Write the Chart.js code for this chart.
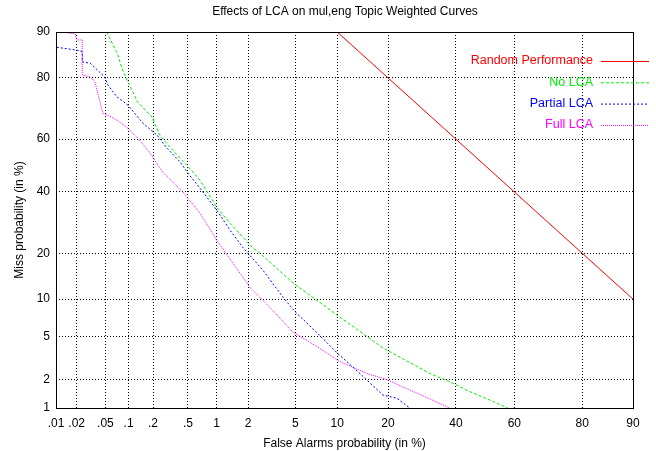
<!DOCTYPE html>
<html>
<head>
<meta charset="utf-8">
<script src="https://cdn.jsdelivr.net/npm/chart.js@4/dist/chart.umd.min.js"></script>
<style>
  html, body { margin: 0; padding: 0; background: #fff; }
  #wrap { width: 656px; height: 451px; }
</style>
</head>
<body>
<div id="wrap"><canvas id="det"></canvas></div>
<script>
// tick positions (in %) and their labels
const faTicks = [0.01, 0.02, 0.05, 0.1, 0.2, 0.5, 1, 2, 5, 10, 20, 40, 60, 80, 90];
const faTickLabels = ['.01', '.02', '.05', '.1', '.2', '.5', '1', '2', '5', '10', '20', '40', '60', '80', '90'];
const missTicks = [1, 2, 5, 10, 20, 40, 60, 80, 90];
const missTickLabels = ['1', '2', '5', '10', '20', '40', '60', '80', '90'];

// series, false alarm % / miss %
const randomFa   = [10, 90];
const randomMiss = [90, 10];

const noLcaFa   = [0.052, 0.073, 0.082, 0.098, 0.13, 0.195, 0.24, 0.38, 0.57, 0.67, 1.0, 1.35, 2.2, 2.55, 4.8, 10.4, 18.8, 31.6, 38, 44.8, 51.7, 57.8];
const noLcaMiss = [90, 85.6, 82.5, 78.9, 72.9, 67.9, 61.5, 54, 47.5, 44.5, 34.5, 29, 21.5, 20, 13, 7.3, 4.0, 2.3, 1.9, 1.5, 1.22, 1.0];

const partialFa   = [0.01, 0.01, 0.02, 0.024, 0.024, 0.031, 0.049, 0.054, 0.071, 0.098, 0.151, 0.223, 0.29, 0.41, 0.5, 0.67, 1.0, 1.35, 1.8, 2.7, 4.0, 5.0, 7.3, 10, 13.9, 18.8, 22.2, 25.7];
const partialMiss = [90, 87.2, 86.6, 86.3, 84, 83.7, 80.2, 78, 74.5, 71.9, 65.8, 61.5, 56.7, 51.4, 47.1, 41.5, 33.5, 26.8, 21.5, 15.8, 10.3, 8.0, 5.4, 3.6, 2.3, 1.38, 1.28, 1.0];

const fullFa   = [0.012, 0.019, 0.02, 0.024, 0.024, 0.031, 0.036, 0.04, 0.046, 0.071, 0.098, 0.13, 0.18, 0.26, 0.44, 0.67, 1.0, 2.1, 3.1, 4.8, 7.3, 10.4, 15.3, 19.7, 27.7, 38];
const fullMiss = [90, 89.7, 88.6, 88.6, 80.8, 80.2, 78.9, 75.1, 69.3, 66.9, 64, 60.4, 55.2, 47.5, 40, 32.5, 23.7, 12, 8.7, 5.5, 4.1, 3.0, 2.3, 2.0, 1.45, 1.0];

// inverse normal CDF (Acklam) for the normal deviate axes
function probit(p) {
  const a = [-3.969683028665376e+01, 2.209460984245205e+02, -2.759285104469687e+02, 1.383577518672690e+02, -3.066479806614716e+01, 2.506628277459239e+00];
  const b = [-5.447609879822406e+01, 1.615858368580409e+02, -1.556989798598866e+02, 6.680131188771972e+01, -1.328068155288572e+01];
  const c = [-7.784894002430293e-03, -3.223964580411365e-01, -2.400758277161838e+00, -2.549732539343734e+00, 4.374664141464968e+00, 2.938163982698783e+00];
  const d = [7.784695709041462e-03, 3.224671290700398e-01, 2.445134137142996e+00, 3.754408661907416e+00];
  const pl = 0.02425, ph = 1 - pl;
  let q, r;
  if (p < pl) {
    q = Math.sqrt(-2 * Math.log(p));
    return (((((c[0]*q+c[1])*q+c[2])*q+c[3])*q+c[4])*q+c[5]) / ((((d[0]*q+d[1])*q+d[2])*q+d[3])*q+1);
  }
  if (p <= ph) {
    q = p - 0.5; r = q * q;
    return (((((a[0]*r+a[1])*r+a[2])*r+a[3])*r+a[4])*r+a[5])*q / (((((b[0]*r+b[1])*r+b[2])*r+b[3])*r+b[4])*r+1);
  }
  q = Math.sqrt(-2 * Math.log(1 - p));
  return -(((((c[0]*q+c[1])*q+c[2])*q+c[3])*q+c[4])*q+c[5]) / ((((d[0]*q+d[1])*q+d[2])*q+d[3])*q+1);
}

function toPoints(fa, miss) {
  return fa.map((f, i) => ({ x: probit(f / 100), y: probit(miss[i] / 100) }));
}

function series(label, fa, miss, color, dash) {
  return {
    label: label,
    data: toPoints(fa, miss),
    borderColor: color,
    backgroundColor: color,
    borderWidth: 1,
    borderDash: dash,
    pointRadius: 0,
    tension: 0,
    fill: false
  };
}

const FONT = 'Liberation Sans, Arial, sans-serif';

// frame, title and the gnuplot style legend
const decorations = {
  id: 'decorations',
  afterDraw(chart) {
    const ctx = chart.ctx;
    const a = chart.chartArea;
    ctx.save();
    ctx.strokeStyle = '#000';
    ctx.lineWidth = 1;
    ctx.setLineDash([]);
    ctx.strokeRect(Math.round(a.left) + 0.5, Math.round(a.top) + 0.5, Math.round(a.right - a.left), Math.round(a.bottom - a.top));

    ctx.fillStyle = '#000';
    ctx.font = '12px ' + FONT;
    ctx.textAlign = 'center';
    ctx.textBaseline = 'middle';
    ctx.fillText('Effects of LCA on mul,eng Topic Weighted Curves', 345, 12);

    ctx.font = '12.5px ' + FONT;
    let rowY = 61;
    chart.data.datasets.forEach(ds => {
      ctx.fillStyle = ds.borderColor;
      ctx.textAlign = 'right';
      ctx.fillText(ds.label, 593, rowY);
      ctx.strokeStyle = ds.borderColor;
      ctx.setLineDash(ds.borderDash || []);
      ctx.beginPath();
      ctx.moveTo(601, rowY + 0.5);
      ctx.lineTo(649, rowY + 0.5);
      ctx.stroke();
      rowY += 21.3;
    });
    ctx.restore();
  }
};

const ctx = document.getElementById('det').getContext('2d');
const chart = new Chart(ctx, {
  type: 'line',
  data: {
    datasets: [
      series('Random Performance', randomFa, randomMiss, '#ff0000', []),
      series('No LCA', noLcaFa, noLcaMiss, '#00ee00', [3, 2]),
      series('Partial LCA', partialFa, partialMiss, '#0000ff', [2, 2]),
      series('Full LCA', fullFa, fullMiss, '#ff00ff', [1, 1])
    ]
  },
  options: {
    responsive: true,
    maintainAspectRatio: false,
    animation: false,
    layout: { padding: { top: 32, right: 23, bottom: 0, left: 0 } },
    plugins: {
      legend: { display: false },
      title: { display: false },
      tooltip: { enabled: false }
    },
    scales: {
      x: {
        type: 'linear',
        min: probit(0.0001),
        max: probit(0.9),
        afterBuildTicks: s => { s.ticks = faTicks.map(v => ({ value: probit(v / 100) })); },
        afterFit: s => { s.height = 43; },
        grid: { color: '#000', lineWidth: 1, drawTicks: false },
        border: { display: false, dash: [1, 2] },
        ticks: {
          autoSkip: false,
          maxRotation: 0,
          padding: 8,
          color: '#000',
          font: { family: FONT, size: 12 },
          callback: (v, i) => faTickLabels[i]
        },
        title: {
          display: true,
          text: 'False Alarms probability (in %)',
          color: '#000',
          font: { family: FONT, size: 12 },
          padding: { top: 4, bottom: 0 }
        }
      },
      y: {
        type: 'linear',
        min: probit(0.01),
        max: probit(0.9),
        afterBuildTicks: s => { s.ticks = missTicks.map(v => ({ value: probit(v / 100) })); },
        afterFit: s => { s.width = 56; },
        grid: { color: '#000', lineWidth: 1, drawTicks: false },
        border: { display: false, dash: [1, 2] },
        ticks: {
          autoSkip: false,
          padding: 6,
          color: '#000',
          font: { family: FONT, size: 12 },
          callback: (v, i) => missTickLabels[i]
        },
        title: {
          display: true,
          text: 'Miss probability (in %)',
          color: '#000',
          font: { family: FONT, size: 12 },
          padding: { top: 12, bottom: 0 }
        }
      }
    }
  },
  plugins: [decorations]
});
</script>
</body>
</html>
